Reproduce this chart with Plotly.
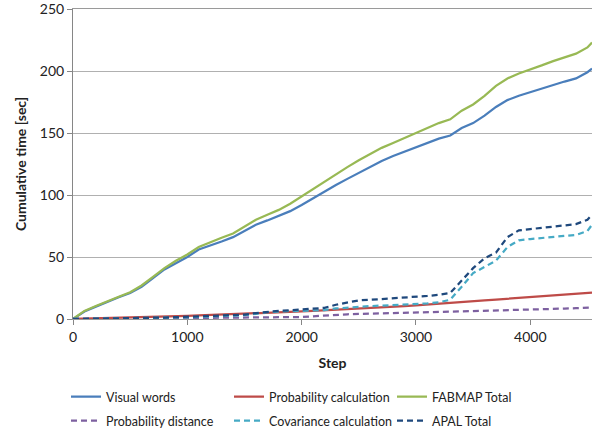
import plotly.graph_objects as go

steps = [0, 100, 200, 300, 400, 500, 600, 700, 800, 900, 1000, 1100, 1200, 1300, 1400, 1500,
         1600, 1700, 1800, 1900, 2000, 2100, 2200, 2300, 2400, 2500, 2600, 2700, 2800, 2900,
         3000, 3100, 3200, 3300, 3400, 3500, 3600, 3700, 3800, 3900, 4000, 4100, 4200, 4300,
         4400, 4500, 4540]

visual_words = [0, 6, 10, 14, 17.5, 21, 26, 33, 40, 45, 50, 56, 59, 62.5, 66, 71,
                76, 79.5, 83, 87, 92, 97.5, 103, 108, 113, 118, 123, 127.5, 131.5, 135,
                138.5, 142, 145.5, 148, 154, 158, 164, 171, 176.5, 180, 183, 186, 189, 191.5,
                194, 199, 202]

prob_calc = [0, 0.2, 0.4, 0.6, 0.9, 1.1, 1.4, 1.7, 2.0, 2.3, 2.6, 2.9, 3.2, 3.5, 3.9, 4.2,
             4.6, 5.0, 5.3, 5.7, 6.1, 6.5, 6.9, 7.4, 7.8, 8.3, 8.8, 9.3, 9.8, 10.3,
             10.9, 11.5, 12.1, 12.8, 13.5, 14.3, 15.0, 15.7, 16.4, 17.0, 17.6, 18.2, 18.9, 19.6,
             20.3, 21.0, 21.3]

fabmap_total = [0, 6.5, 10.5, 14.5, 18, 21.5, 27, 34, 41, 47, 52, 58, 62, 65.5, 69, 74.5,
                80, 84, 88, 93, 99, 105, 111, 117, 122.5, 128, 133, 138, 142, 146,
                150, 154, 158, 161, 168, 173, 180, 188, 194, 198, 201, 204.5, 208, 211,
                214, 219, 223]

prob_dist = [0, 0.1, 0.2, 0.2, 0.3, 0.4, 0.4, 0.5, 0.6, 0.6, 0.7, 0.8, 0.8, 0.9, 1.0, 1.0,
             1.1, 1.2, 1.3, 1.4, 1.6, 2.2, 2.9, 3.4, 3.8, 4.1, 4.4, 4.7, 4.9, 5.1,
             5.3, 5.5, 5.7, 5.9, 6.1, 6.3, 6.5, 6.7, 6.9, 7.2, 7.5, 7.8, 8.1, 8.4,
             8.7, 9.1, 9.4]

cov_calc = [0, 0.1, 0.2, 0.3, 0.4, 0.5, 0.6, 0.8, 1.0, 1.2, 1.4, 1.7, 2.0, 2.3, 2.7, 3.1,
            4.2, 5.5, 6.0, 6.3, 6.5, 6.8, 7.2, 8.5, 9.3, 10.0, 10.4, 10.8, 11.1, 11.5,
            12.0, 12.6, 13.5, 15.5, 26, 37, 42, 47, 58, 63.5, 64.5, 65.5, 66, 67,
            67.8, 71, 76]

apal_total = [0, 0.1, 0.3, 0.4, 0.5, 0.7, 0.8, 1.0, 1.2, 1.5, 1.8, 2.1, 2.4, 2.7, 3.1, 3.5,
              4.8, 6.0, 6.6, 7.0, 7.5, 8.0, 9.0, 11.5, 13.5, 15.0, 15.5, 16.0, 16.8, 17.4,
              18.0, 18.6, 19.5, 21.0, 31, 41, 49, 53.5, 66, 71.5, 72.5, 73.5, 74.5, 75.5,
              76.5, 80, 84]

series = [
    ("Visual words", visual_words, "#4a7ebb", "solid", "legend"),
    ("Probability calculation", prob_calc, "#be4b48", "solid", "legend"),
    ("FABMAP Total", fabmap_total, "#98b954", "solid", "legend"),
    ("Probability distance", prob_dist, "#7d60a0", "6px,4px", "legend2"),
    ("Covariance calculation", cov_calc, "#46aac5", "6px,4px", "legend2"),
    ("APAL Total", apal_total, "#1f497d", "6px,4px", "legend2"),
]

FONT = "Lato, 'Open Sans', DejaVu Sans, sans-serif"
GRID = "#b0b0b0"

fig = go.Figure()
for name, vals, color, dash, lg in series:
    fig.add_trace(go.Scatter(x=steps, y=vals, mode="lines", name=name, legend=lg,
                             line=dict(color=color, width=2.25, dash=dash)))

legend_common = dict(orientation="h", xref="container", yref="container",
                     xanchor="left", yanchor="middle",
                     entrywidth=118, entrywidthmode="pixels", itemwidth=30,
                     font=dict(family=FONT, size=12.5, color="#222222"),
                     traceorder="normal", bgcolor="rgba(0,0,0,0)")

fig.update_layout(
    width=593, height=433,
    margin=dict(l=73, r=1, t=9, b=114),
    paper_bgcolor="white", plot_bgcolor="white",
    font=dict(family=FONT, size=14, color="#222222"),
    showlegend=True,
    legend=dict(x=66 / 593, y=1 - 397 / 433, **legend_common),
    legend2=dict(x=66 / 593, y=1 - 421 / 433, **legend_common),
    xaxis=dict(range=[0, 4540], dtick=1000, tick0=0, showgrid=False,
               showline=True, mirror=True, linecolor="#9a9a9a", linewidth=1,
               ticks="outside", ticklen=5, tickcolor="#868686",
               zeroline=False, tickfont=dict(size=14),
               title=dict(text="<b>Step</b>", font=dict(size=14), standoff=14)),
    yaxis=dict(range=[0, 250], dtick=50, tick0=0, showgrid=True, gridcolor=GRID,
               gridwidth=1, showline=True, linecolor="#868686", linewidth=1,
               ticks="outside", ticklen=5, tickcolor="#868686",
               zeroline=False, tickfont=dict(size=14), ticklabeloverflow="allow",
               title=dict(text="<b>Cumulative time [sec]</b>", font=dict(size=14), standoff=9)),
)

fig.write_html("out.html")
